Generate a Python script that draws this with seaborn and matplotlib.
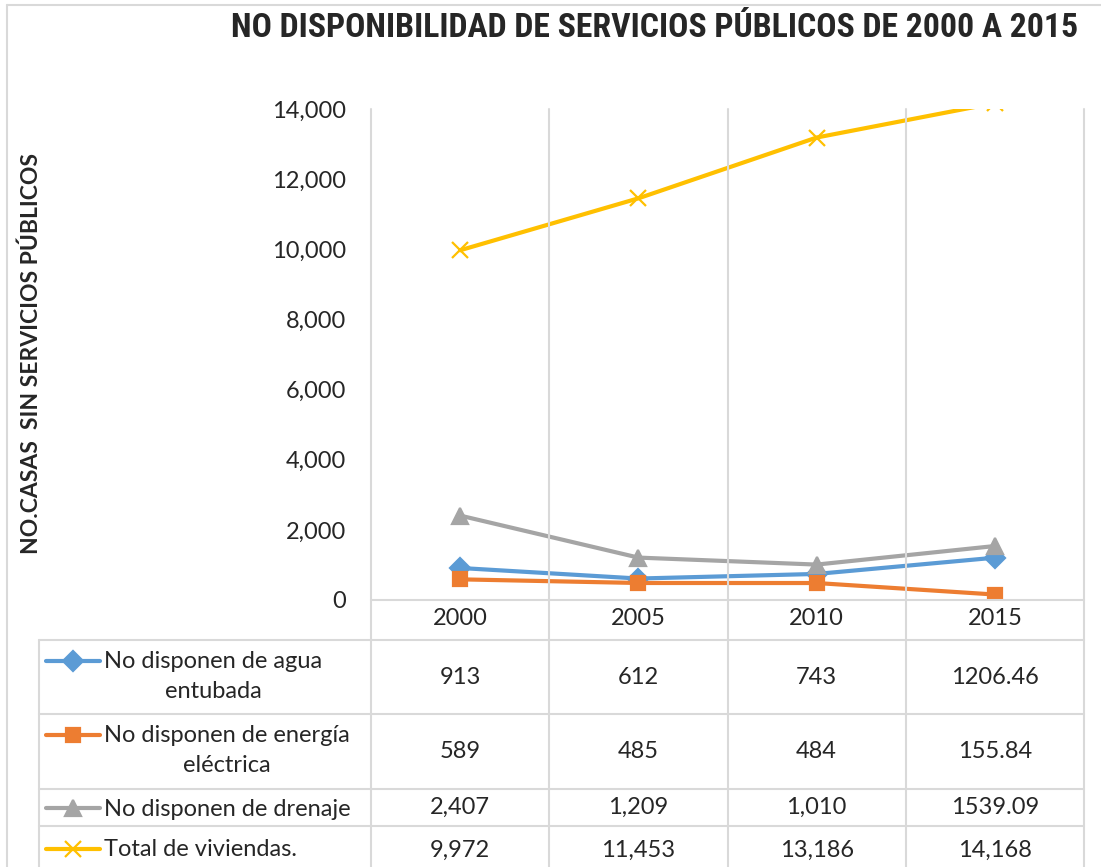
import numpy as np
import pandas as pd
import seaborn as sns
import matplotlib.pyplot as plt
import matplotlib.transforms as mtransforms
from matplotlib.lines import Line2D

years = ['2000', '2005', '2010', '2015']
agua = [913, 612, 743, 1206.46]
energia = [589, 485, 484, 155.84]
drenaje = [2407, 1209, 1010, 1539.09]
total = [9972, 11453, 13186, 14168]
labels = ['No disponen de agua\nentubada', 'No disponen de energía\neléctrica',
          'No disponen de drenaje', 'Total de viviendas.']
colors = ['#5B9BD5', '#ED7D31', '#A5A5A5', '#FFC000']
markers = ['D', 's', '^', 'x']

W, H = 1101, 867
sns.set_style('white')
plt.rcParams['font.family'] = ['Lato', 'DejaVu Sans']

fig = plt.figure(figsize=(W / 100, H / 100), dpi=100)
ax = fig.add_axes([371 / W, 1 - 600 / H, 713 / W, 491 / H])

pos = np.arange(len(years))
msize = {'D': 10, 's': 10, '^': 11, 'x': 11}
for vals, c, m in zip([agua, energia, drenaje, total], colors, markers):
    sns.lineplot(x=pos, y=vals, color=c, marker=m, markersize=msize[m], markeredgecolor=c,
                 markeredgewidth=1.6, linewidth=3, ax=ax)

ax.set_xlim(-0.5, 3.5)
ax.set_ylim(0, 14000)
ax.set_yticks(range(0, 14001, 2000))
ax.set_yticklabels([f'{v:,}' for v in range(0, 14001, 2000)])
ax.set_xticks(pos)
ax.set_xticklabels(years)
ax.tick_params(axis='y', length=0, pad=18, labelsize=17)
ax.tick_params(axis='x', length=0, pad=6, labelsize=17)
for s in ax.spines.values():
    s.set_visible(False)
ax.set_xlabel('')
ax.set_ylabel('')

grid = '#D9D9D9'
bt = mtransforms.blended_transform_factory(ax.transData, fig.transFigure)
fy = lambda px: 1 - px / H
# column lines through plot and table
for xb in np.arange(-0.5, 4, 1):
    fig.add_artist(Line2D([xb, xb], [fy(109), fy(870)], color=grid, lw=1.5, transform=bt))
fig.add_artist(Line2D([-0.5, 3.5], [fy(600), fy(600)], color=grid, lw=1.5, transform=bt))
# table rows
for yl in [640, 714, 789, 826]:
    fig.add_artist(Line2D([39 / W, 1084 / W], [fy(yl), fy(yl)], color=grid, lw=1.5,
                          transform=fig.transFigure))
fig.add_artist(Line2D([39 / W, 39 / W], [fy(640), fy(870)], color=grid, lw=1.5,
                      transform=fig.transFigure))

# table content
r = fig.canvas.get_renderer()
fmt = lambda v: f'{v:,}' if float(v).is_integer() else f'{v:.2f}'
row_tops = [640, 714, 789, 826]
row_bots = [714, 789, 826, 874]
key_y = [661, 735, 808, 849]
for i, (vals, lab, c, m) in enumerate(zip([agua, energia, drenaje, total], labels, colors, markers)):
    yc = (row_tops[i] + row_bots[i]) / 2
    for j, v in enumerate(vals):
        fig.text(j, fy(yc), fmt(v), ha='center', va='center', fontsize=17, transform=bt)
    fig.add_artist(Line2D([46 / W, 100 / W], [fy(key_y[i])] * 2, color=c, lw=3,
                          solid_capstyle='round', transform=fig.transFigure))
    fig.add_artist(Line2D([73 / W], [fy(key_y[i])], color=c, marker=m, markersize=msize[m],
                          markeredgecolor=c, markeredgewidth=1.6, transform=fig.transFigure))
    lines = lab.split('\n')
    t0 = fig.text(104 / W, fy(key_y[i] + 1), lines[0], ha='left', va='center', fontsize=17)
    if len(lines) > 1:
        w0 = t0.get_window_extent(r).width
        fig.text((104 + w0 / 2) / W, fy(key_y[i] + 31), lines[1], ha='center',
                 va='center', fontsize=17)

# frame
fig.add_artist(Line2D([7 / W, 1], [fy(5), fy(5)], color=grid, lw=1.5, transform=fig.transFigure))
fig.add_artist(Line2D([7 / W, 7 / W], [fy(5), 0], color=grid, lw=1.5, transform=fig.transFigure))

title = fig.text(655 / W, fy(28), 'NO DISPONIBILIDAD DE SERVICIOS PÚBLICOS DE 2000 A 2015',
                 ha='center', va='center', fontsize=24, fontweight='bold',
                 fontstretch='condensed',
                 family=['Roboto Condensed', 'Liberation Sans Narrow', 'DejaVu Sans'])
fig.text(31 / W, fy(353), 'NO.CASAS  SIN SERVICIOS PÚBLICOS', rotation=90,
         ha='center', va='center', fontsize=16.5, fontweight='bold')

# size title to the width it takes in the original
w = title.get_window_extent(r).width
title.set_fontsize(24 * 851 / w)

fig.savefig('out.png', dpi=100)
